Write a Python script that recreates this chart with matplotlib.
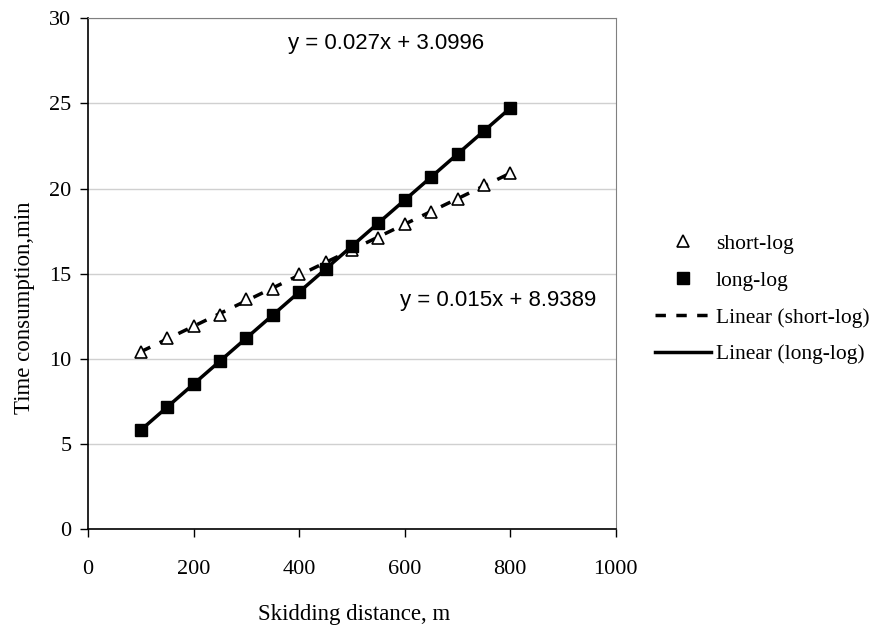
import numpy as np
import matplotlib.pyplot as plt
from matplotlib.lines import Line2D

distance = [100, 150, 200, 250, 300, 350, 400, 450, 500, 550, 600, 650, 700, 750, 800]
short_log = [10.4, 11.2, 11.9, 12.6, 13.5, 14.1, 15.0, 15.7, 16.4, 17.1, 17.9, 18.6, 19.4, 20.2, 20.9]
long_log = [5.8, 7.2, 8.5, 9.9, 11.2, 12.6, 13.9, 15.3, 16.6, 18.0, 19.3, 20.7, 22.0, 23.4, 24.7]

serif = ['Liberation Serif', 'DejaVu Serif']
sans = ['Liberation Sans', 'DejaVu Sans']

fig = plt.figure(figsize=(8.81, 6.27), dpi=100)
ax = fig.add_axes([0.1, 0.156, 0.599, 0.815])

x = np.array(distance)
# linear trendlines fitted from the points
ps = np.polyfit(x, short_log, 1)
pl = np.polyfit(x, long_log, 1)
xs = np.array([100, 800])

ax.plot(xs, np.polyval(ps, xs), color='black', lw=2.5, ls=(0, (3, 3)), zorder=2)
ax.plot(xs, np.polyval(pl, xs), color='black', lw=2.5, ls='-', zorder=2)
ax.plot(x, short_log, ls='none', marker='^', ms=9, mfc='white', mec='black', mew=1.2, zorder=3)
ax.plot(x, long_log, ls='none', marker='s', ms=9, mfc='black', mec='black', zorder=3)

ax.set_xlim(0, 1000)
ax.set_ylim(0, 30)
ax.set_xticks(range(0, 1001, 200))
ax.set_yticks(range(0, 31, 5))
ax.grid(axis='y', color='#d0d0d0', lw=1)
ax.set_axisbelow(True)
for s in ['top', 'right']:
    ax.spines[s].set_color('#808080')
for s in ['left', 'bottom']:
    ax.spines[s].set_color('black')
    ax.spines[s].set_linewidth(1.2)
ax.tick_params(direction='out', length=6, width=1, labelsize=16)
ax.tick_params(axis='x', pad=16)
ax.tick_params(axis='y', pad=6)
for lab in ax.get_xticklabels() + ax.get_yticklabels():
    lab.set_family(serif)

ax.set_xlabel('Skidding distance, m', family=serif, fontsize=16.5)
ax.set_ylabel('Time consumption,min', family=serif, fontsize=16.5)
ax.xaxis.set_label_coords(0.505, -0.147)
ax.yaxis.set_label_coords(-0.1, 0.434)

ax.text(565, 28.5, 'y = 0.027x + 3.0996', family=sans, fontsize=16, ha='center', va='center')
ax.text(777, 13.4, 'y = 0.015x + 8.9389', family=sans, fontsize=16, ha='center', va='center')

handles = [
    Line2D([], [], ls='none', marker='^', ms=9, mfc='white', mec='black', mew=1.2),
    Line2D([], [], ls='none', marker='s', ms=9, mfc='black', mec='black'),
    Line2D([], [], color='black', lw=2.5, ls=(0, (3, 3))),
    Line2D([], [], color='black', lw=2.5),
]
labels = ['short-log', 'long-log', 'Linear (short-log)', 'Linear (long-log)']
fig.legend(handles, labels, loc='center left', bbox_to_anchor=(0.739, 0.523),
           frameon=False, prop={'family': serif, 'size': 15.5},
           handlelength=2.6, handletextpad=0.2, labelspacing=0.78,
           borderaxespad=0, borderpad=0.2)

fig.savefig('out.png', dpi=100)
